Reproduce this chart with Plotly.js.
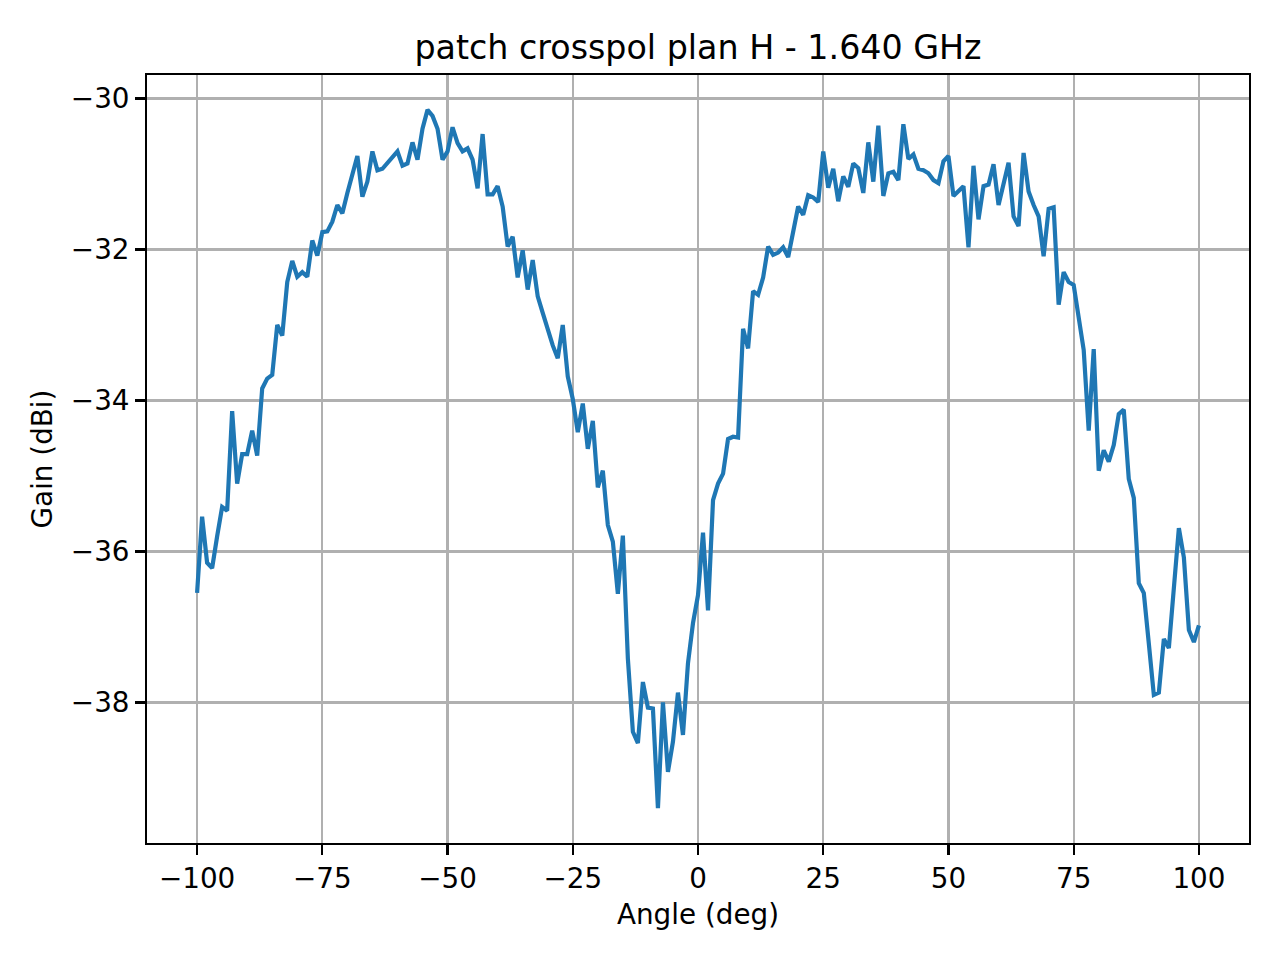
<!DOCTYPE html>
<html>
<head>
<meta charset="utf-8">
<script src="https://cdn.plot.ly/plotly-3.0.1.min.js"></script>
<style>
html, body { margin: 0; padding: 0; background: #ffffff; }
#chart { width: 1280px; height: 960px; }
</style>
</head>
<body>
<div id="chart"></div>
<script>
const chartTitle = "patch crosspol plan H - 1.640 GHz";
const xLabel = "Angle (deg)";
const yLabel = "Gain (dBi)";

const angles = [
  -100, -99, -98, -97, -96, -95, -94, -93, -92, -91,
  -90, -89, -88, -87, -86, -85, -84, -83, -82, -81,
  -80, -79, -78, -77, -76, -75, -74, -73, -72, -71,
  -70, -69, -68, -67, -66, -65, -64, -63, -62, -61,
  -60, -59, -58, -57, -56, -55, -54, -53, -52, -51,
  -50, -49, -48, -47, -46, -45, -44, -43, -42, -41,
  -40, -39, -38, -37, -36, -35, -34, -33, -32, -31,
  -30, -29, -28, -27, -26, -25, -24, -23, -22, -21,
  -20, -19, -18, -17, -16, -15, -14, -13, -12, -11,
  -10, -9, -8, -7, -6, -5, -4, -3, -2, -1,
  0, 1, 2, 3, 4, 5, 6, 7, 8, 9,
  10, 11, 12, 13, 14, 15, 16, 17, 18, 19,
  20, 21, 22, 23, 24, 25, 26, 27, 28, 29,
  30, 31, 32, 33, 34, 35, 36, 37, 38, 39,
  40, 41, 42, 43, 44, 45, 46, 47, 48, 49,
  50, 51, 52, 53, 54, 55, 56, 57, 58, 59,
  60, 61, 62, 63, 64, 65, 66, 67, 68, 69,
  70, 71, 72, 73, 74, 75, 76, 77, 78, 79,
  80, 81, 82, 83, 84, 85, 86, 87, 88, 89,
  90, 91, 92, 93, 94, 95, 96, 97, 98, 99,
  100
];

const gain = [
  -36.55, -35.54, -36.15, -36.22, -35.80, -35.41, -35.46, -34.14, -35.10, -34.71,
  -34.71, -34.40, -34.73, -33.84, -33.71, -33.66, -33.00, -33.14, -32.43, -32.15,
  -32.36, -32.30, -32.36, -31.88, -32.08, -31.77, -31.76, -31.63, -31.41, -31.52,
  -31.25, -31.01, -30.76, -31.30, -31.10, -30.70, -30.95, -30.93, -30.85, -30.76,
  -30.70, -30.89, -30.86, -30.58, -30.81, -30.40, -30.15, -30.23, -30.40, -30.81,
  -30.70, -30.38, -30.59, -30.70, -30.66, -30.81, -31.19, -30.47, -31.27, -31.27,
  -31.16, -31.43, -31.96, -31.83, -32.37, -32.01, -32.53, -32.14, -32.62, -32.84,
  -33.06, -33.27, -33.44, -33.00, -33.68, -33.98, -34.42, -34.04, -34.64, -34.27,
  -35.15, -34.93, -35.65, -35.87, -36.56, -35.79, -37.42, -38.39, -38.54, -37.73,
  -38.07, -38.08, -39.40, -38.00, -38.92, -38.52, -37.87, -38.43, -37.48, -36.95,
  -36.58, -35.75, -36.78, -35.32, -35.10, -34.97, -34.51, -34.48, -34.49, -33.05,
  -33.31, -32.55, -32.60, -32.37, -31.96, -32.07, -32.04, -31.97, -32.10, -31.75,
  -31.43, -31.54, -31.28, -31.31, -31.37, -30.70, -31.18, -30.93, -31.36, -31.03,
  -31.17, -30.86, -30.92, -31.25, -30.58, -31.10, -30.36, -31.29, -30.99, -30.97,
  -31.08, -30.34, -30.80, -30.74, -30.93, -30.95, -30.99, -31.08, -31.12, -30.83,
  -30.76, -31.29, -31.22, -31.16, -31.97, -30.89, -31.60, -31.16, -31.14, -30.87,
  -31.41, -31.12, -30.85, -31.56, -31.69, -30.72, -31.23, -31.41, -31.56, -32.09,
  -31.46, -31.44, -32.73, -32.30, -32.43, -32.47, -32.86, -33.33, -34.40, -33.32,
  -34.93, -34.66, -34.81, -34.59, -34.18, -34.12, -35.04, -35.29, -36.42, -36.55,
  -37.22, -37.90, -37.87, -37.16, -37.28, -36.55, -35.69, -36.08, -37.04, -37.20,
  -36.98
];

const xTicks = [-100, -75, -50, -25, 0, 25, 50, 75, 100];
const yTicks = [-38, -36, -34, -32, -30];

const font = "DejaVu Sans, Liberation Sans, sans-serif";

const trace = {
  x: angles,
  y: gain,
  type: "scatter",
  mode: "lines",
  line: { color: "#1f77b4", width: 4.2 },
  hoverinfo: "skip"
};

const axisCommon = {
  showgrid: true,
  gridcolor: "#b0b0b0",
  gridwidth: 2.2,
  zeroline: false,
  showline: true,
  linecolor: "#000000",
  linewidth: 2.2,
  mirror: true,
  ticks: "outside",
  ticklen: 9.7,
  tickwidth: 2.2,
  tickcolor: "#000000",
  tickfont: { family: font, size: 27.8, color: "#000000" },
  automargin: false
};

const layout = {
  width: 1280,
  height: 960,
  paper_bgcolor: "#ffffff",
  plot_bgcolor: "#ffffff",
  showlegend: false,
  margin: { l: 147, r: 31, t: 75, b: 117, pad: 0 },
  title: {
    text: chartTitle,
    font: { family: font, size: 33.3, color: "#000000" },
    x: 0.5, xref: "paper", xanchor: "center",
    y: 1 - 47 / 960, yref: "container", yanchor: "middle"
  },
  xaxis: Object.assign({}, axisCommon, {
    range: [-110, 110],
    tickvals: xTicks,
    title: { text: xLabel, font: { family: font, size: 27.8, color: "#000000" }, standoff: 10 }
  }),
  yaxis: Object.assign({}, axisCommon, {
    range: [-39.8625, -29.6875],
    tickvals: yTicks,
    title: { text: yLabel, font: { family: font, size: 27.8, color: "#000000" }, standoff: 10 }
  })
};

Plotly.newPlot("chart", [trace], layout, { displayModeBar: false, staticPlot: true });
</script>
</body>
</html>
